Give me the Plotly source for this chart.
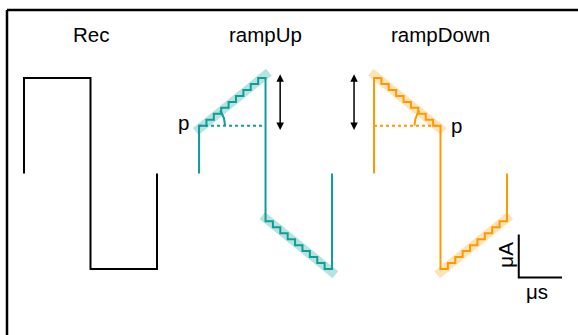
import numpy as np
import plotly.graph_objects as go

W, H = 578, 335

# ---------------- data ----------------
titles = ["Rec", "rampUp", "rampDown"]
offsets = [0.0, 2.632, 5.263]          # start time of each waveform (phase units)
colors = ["#000000", "#0E9E96", "#FF9900"]
band_colors = [None, "rgba(14,158,150,0.30)", "rgba(255,153,0,0.28)"]

p_level = 0.5
# staircase amplitude levels (9 steps per ramp phase)
rise_pos = [0.500, 0.5625, 0.625, 0.6875, 0.750, 0.8125, 0.875, 0.9375, 1.000]
fall_pos = [1.000, 0.9375, 0.875, 0.8125, 0.750, 0.6875, 0.625, 0.5625, 0.500]
fall_neg = [-0.500, -0.5625, -0.625, -0.6875, -0.750, -0.8125, -0.875, -0.9375, -1.000]
rise_neg = [-1.000, -0.9375, -0.875, -0.8125, -0.750, -0.6875, -0.625, -0.5625, -0.500]

rec_t = [0, 0, 1, 1, 2, 2]
rec_a = [0, 1, 1, -1, -1, 0]

# ---------------- layout mapping (pixels <-> units) ----------------
px_per_t, px_per_a = 66.5, 95.5
x0_px, y0_px = 24.0, 173.5
xr = [(0 - x0_px) / px_per_t, (W - x0_px) / px_per_t]
yr = [(y0_px - H) / px_per_a, (y0_px - 0) / px_per_a]


def stair(levels, t0):
    n = len(levels)
    w = 1.0 / n
    xs, ys = [], []
    for k, L in enumerate(levels):
        xs += [t0 + k * w, t0 + (k + 1) * w]
        ys += [L, L]
    return xs, ys


def band(levels, t0, ext=0.05):
    n = len(levels)
    mids = t0 + (np.arange(n) + 0.5) / n
    m, b = np.polyfit(mids, levels, 1)
    ts = np.array([t0 - ext, t0 + 1 + ext])
    return ts, m * ts + b


fig = go.Figure()

# Rec
fig.add_trace(go.Scatter(x=[offsets[0] + t for t in rec_t], y=rec_a, mode="lines",
                         line=dict(color=colors[0], width=2), hoverinfo="skip"))

# rampUp / rampDown
ramps = {1: (rise_pos, fall_neg), 2: (fall_pos, rise_neg)}
for i, (ph1, ph2) in ramps.items():
    off = offsets[i]
    # shaded bands
    for lv, t0 in ((ph1, 0.0), (ph2, 1.0)):
        bt, ba = band(lv, t0)
        fig.add_trace(go.Scatter(x=bt + off, y=ba, mode="lines",
                                 line=dict(color=band_colors[i], width=9), hoverinfo="skip"))
    # dotted p-level line
    fig.add_trace(go.Scatter(x=[off, off + 1], y=[p_level, p_level], mode="lines",
                             line=dict(color=colors[i], width=2, dash="dot"), hoverinfo="skip"))
    # waveform
    s1x, s1y = stair(ph1, 0.0)
    s2x, s2y = stair(ph2, 1.0)
    xs = [0, 0] + s1x + s2x + [2, 2]
    ys = [0, ph1[0]] + s1y + s2y + [ph2[-1], 0]
    fig.add_trace(go.Scatter(x=[off + v for v in xs], y=ys, mode="lines",
                             line=dict(color=colors[i], width=2), hoverinfo="skip"))
    # angle arc
    r_px = 26
    ang = np.arctan((0.5 * px_per_a) / px_per_t)
    th = np.linspace(0, ang, 20)
    if i == 1:
        ax_ = off + r_px * np.cos(th) / px_per_t
    else:
        ax_ = off + 1 - r_px * np.cos(th) / px_per_t
    ay_ = p_level + r_px * np.sin(th) / px_per_a
    fig.add_trace(go.Scatter(x=ax_, y=ay_, mode="lines",
                             line=dict(color=colors[i], width=2), hoverinfo="skip"))

font = dict(family="Liberation Sans, Arial, sans-serif", size=20.5, color="black")
ann = []
for i, t in enumerate(titles):
    ann.append(dict(x=offsets[i] + 1, y=1.455, text=t, showarrow=False,
                    xanchor="center", yanchor="middle", font=font))
# p labels
ann.append(dict(x=offsets[1] - 0.24, y=0.53, text="p", showarrow=False,
                xanchor="center", yanchor="middle", font=font))
ann.append(dict(x=offsets[2] + 1.24, y=0.50, text="p", showarrow=False,
                xanchor="center", yanchor="middle", font=font))
# double arrows
for xa in (offsets[1] + 1.22, offsets[2] - 0.30):
    ann.append(dict(x=xa, y=1.04, ax=xa, ay=0.44, axref="x", ayref="y", xref="x", yref="y",
                    text="", showarrow=True, arrowhead=2, arrowside="end+start",
                    arrowsize=1.0, arrowwidth=1.5, arrowcolor="black", standoff=0, startstandoff=0))

# scale bar
sb_t, sb_a = 7.44, -1.09
sb_len_t, sb_len_a = 0.65, 0.45
fig.add_trace(go.Scatter(x=[sb_t, sb_t, sb_t + sb_len_t], y=[sb_a + sb_len_a, sb_a, sb_a],
                         mode="lines", line=dict(color="black", width=2), hoverinfo="skip"))
ann.append(dict(x=sb_t - 0.20, y=sb_a + sb_len_a / 2 + 0.02, text="μA", textangle=-90, showarrow=False,
                xanchor="center", yanchor="middle", font=font))
ann.append(dict(x=sb_t + 0.28, y=sb_a - 0.145, text="μs", showarrow=False,
                xanchor="center", yanchor="middle", font=font))

shapes = [
    dict(type="line", xref="paper", yref="paper", x0=7 / W, x1=7 / W, y0=0, y1=1 - 10 / H,
         line=dict(color="black", width=2.5)),
    dict(type="line", xref="paper", yref="paper", x0=7 / W, x1=1, y0=1 - 10 / H, y1=1 - 10 / H,
         line=dict(color="black", width=2.5)),
]

fig.update_layout(
    width=W, height=H, margin=dict(l=0, r=0, t=0, b=0),
    paper_bgcolor="white", plot_bgcolor="white", showlegend=False,
    xaxis=dict(range=xr, visible=False, fixedrange=True),
    yaxis=dict(range=yr, visible=False, fixedrange=True),
    annotations=ann, shapes=shapes,
)

fig.write_html("out.html", config={"displayModeBar": False},
               post_script="document.body.style.margin='0';document.body.style.overflow='hidden';")
